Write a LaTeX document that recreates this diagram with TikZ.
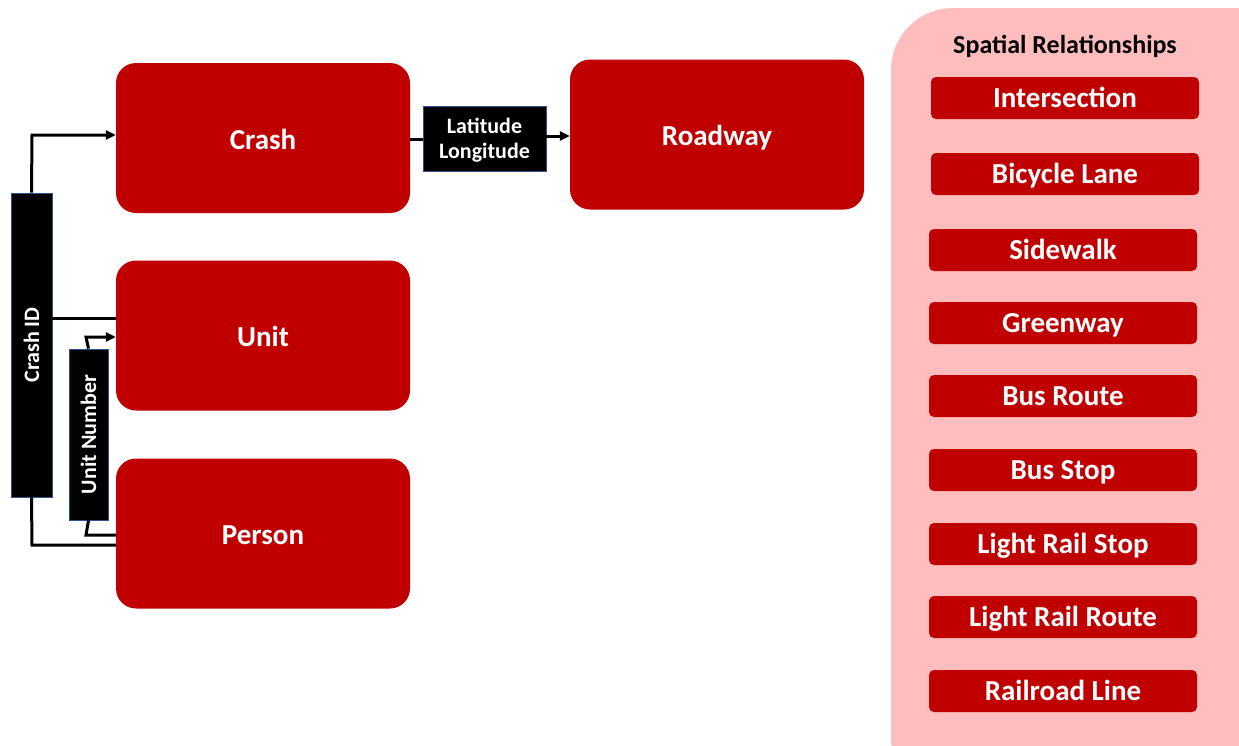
\documentclass[tikz,border=0pt]{standalone}
\usepackage{fontspec}
\setmainfont{Carlito}
\usetikzlibrary{arrows.meta}
\definecolor{boxred}{HTML}{C00000}
\definecolor{panelpink}{HTML}{FFBDBD}
\definecolor{edgeblue}{HTML}{2F528F}
\tikzset{
  entity/.style={draw=none, fill=boxred, rounded corners=20pt, minimum width=294pt, minimum height=150pt, text=white, font=\bfseries\fontsize{29}{32}\selectfont, inner sep=0pt, text height=22pt, text depth=0pt},
  keybox/.style={draw=edgeblue, line width=0.8pt, fill=black, text=white, inner sep=0pt, font=\bfseries\fontsize{22}{25}\selectfont, align=center},
  spbtn/.style={fill=boxred, rounded corners=5pt, minimum width=268pt, minimum height=42pt, text=white, inner sep=0pt, font=\bfseries\fontsize{29}{32}\selectfont, text height=18pt, text depth=0pt},
  conn/.style={line width=3pt, black},
  arr/.style={conn, -{Triangle[length=10pt,width=9pt]}}
}
\begin{document}
\begin{tikzpicture}[x=1pt,y=-1pt]
\useasboundingbox (0,0) rectangle (1239,745);
% panel
\begin{scope}
\clip (0,0) rectangle (1239,745);
\fill[panelpink, rounded corners=62pt] (891,8) rectangle (1300,800);
\end{scope}
\node[font=\bfseries\fontsize{26}{28}\selectfont, text height=16pt, text depth=0pt, inner sep=0pt] (title) at (1065,45) {Spatial Relationships};
\node[spbtn] (b1) at (1065,98) {Intersection};
\node[spbtn] (b2) at (1065,174) {Bicycle Lane};
\node[spbtn] (b3) at (1063,250) {Sidewalk};
\node[spbtn] (b4) at (1063,323) {Greenway};
\node[spbtn] (b5) at (1063,396) {Bus Route};
\node[spbtn] (b6) at (1063,470) {Bus Stop};
\node[spbtn] (b7) at (1063,544) {Light Rail Stop};
\node[spbtn] (b8) at (1063,617) {Light Rail Route};
\node[spbtn] (b9) at (1063,691) {Railroad Line};
% entities
\node[entity] (crash) at (263,138) {Crash};
\node[entity] (unit) at (263,335.5) {Unit};
\node[entity] (person) at (263,533.5) {Person};
\node[entity] (road) at (717,134.5) {Roadway};
% key boxes
\node[keybox, minimum width=123pt, minimum height=65pt] (latlon) at (484.5,138.5) {\rule{0pt}{19pt}Latitude\\Longitude};
\node[keybox, minimum width=304pt, minimum height=41pt, rotate=90] (cid) at (31.5,345) {Crash ID};
\node[keybox, minimum width=171pt, minimum height=39pt, rotate=90] (unum) at (88.5,434.5) {Unit Number};
% coordinates
\coordinate (c1) at (32,135);
\coordinate (c2) at (32,545);
\coordinate (u1) at (86,337);
\coordinate (u2) at (86,535);
% connectors
\draw[conn] (crash.east |- 0,139) -- (latlon.west |- 0,139);
\draw[arr] (latlon.east |- 0,136) -- (road.west |- 0,136);
\draw[arr] (cid.east) -- (c1) -- (crash.west |- c1);
\draw[conn] (cid.south |- 0,318) -- (unit.west |- 0,318);
\draw[conn] (cid.west) -- (c2) -- (person.west |- c2);
\draw[arr] (unum.east) -- (u1) -- (unit.west |- u1);
\draw[conn] (unum.west) -- (u2) -- (person.west |- u2);
\end{tikzpicture}
\end{document}
